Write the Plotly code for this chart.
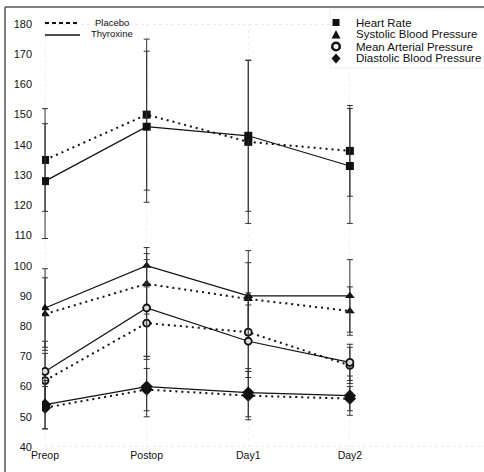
import plotly.graph_objects as go

# ---------------- data ----------------
categories = ["Preop", "Postop", "Day1", "Day2"]
y_ticks = list(range(40, 181, 10))

hr_placebo = [135, 150, 141, 138]
hr_placebo_err = [17, 25, 27, 15]
hr_thyroxine = [128, 146, 143, 133]
hr_thyroxine_err = [19, 25, 25, 19]

sbp_placebo = [84, 94, 89, 85]
sbp_placebo_err = [12, 10, 12, 8]
sbp_thyroxine = [86, 100, 90, 90]
sbp_thyroxine_err = [13, 6, 15, 12]

map_placebo = [62, 81, 78, 67]
map_placebo_err = [9, 12, 13, 6]
map_thyroxine = [65, 86, 75, 68]
map_thyroxine_err = [10, 16, 12, 6]

dbp_placebo = [53, 59, 57, 56]
dbp_placebo_err = [7, 7, 8, 4]
dbp_thyroxine = [54, 60, 58, 57]
dbp_thyroxine_err = [8, 10, 8, 6.5]

group_names = ["Placebo", "Thyroxine"]
measure_names = ["Heart Rate", "Systolic Blood Pressure",
                 "Mean Arterial Pressure", "Diastolic Blood Pressure"]

# ---------------- layout constants ----------------
W, H = 484, 472
L, R, T, B = 42, 484, 24, 447
FONT = "Liberation Sans, Arial, Helvetica, sans-serif"
INK = "#111111"


def px(x):
    return (x - L) / (R - L)


def py(y):
    return (B - y) / (B - T)


measures = [
    ("square", 8, INK, 0, (hr_placebo, hr_placebo_err), (hr_thyroxine, hr_thyroxine_err)),
    ("triangle-up", 8.5, INK, 0, (sbp_placebo, sbp_placebo_err), (sbp_thyroxine, sbp_thyroxine_err)),
    ("circle", 7, "#dcdcdc", 1.8, (map_placebo, map_placebo_err), (map_thyroxine, map_thyroxine_err)),
    ("diamond", 9.5, INK, 0, (dbp_placebo, dbp_placebo_err), (dbp_thyroxine, dbp_thyroxine_err)),
]

fig = go.Figure()
for symbol, size, fill, lw, plac, thy in measures:
    for (vals, errs), dash, width in ((plac, "2px,4px", 2), (thy, "solid", 1.2)):
        fig.add_trace(go.Scatter(
            x=categories, y=vals,
            mode="lines+markers",
            line=dict(color=INK, width=width, dash=dash),
            marker=dict(symbol=symbol, size=size, color=fill,
                        line=dict(color=INK, width=lw)),
            error_y=dict(type="data", array=errs, visible=True,
                         color="#333333", thickness=1, width=3),
            showlegend=False, hoverinfo="skip",
        ))

shapes = []
# faint dotted frame lines at 40 and 180
for yv in (40, 180):
    shapes.append(dict(type="line", xref="paper", yref="y", x0=px(45), x1=1, y0=yv, y1=yv,
                       line=dict(color="#d8d8d8", width=1, dash="dot"), layer="below"))
# outer frame (top and left)
shapes.append(dict(type="line", xref="paper", yref="paper", x0=px(5), x1=px(5),
                   y0=py(7), y1=py(480), line=dict(color="#555555", width=1.5)))
shapes.append(dict(type="line", xref="paper", yref="paper", x0=px(5), x1=px(490),
                   y0=py(7), y1=py(7), line=dict(color="#555555", width=1.5)))
# right legend box
shapes.append(dict(type="rect", xref="paper", yref="paper", x0=px(330), x1=px(486),
                   y0=py(68), y1=py(9), fillcolor="white",
                   line=dict(color="#f0f0f0", width=1)))
# left legend line samples
shapes.append(dict(type="line", xref="paper", yref="paper", x0=px(45), x1=px(80),
                   y0=py(23), y1=py(23), line=dict(color=INK, width=2, dash="4px,3px")))
shapes.append(dict(type="line", xref="paper", yref="paper", x0=px(45), x1=px(80),
                   y0=py(35), y1=py(35), line=dict(color=INK, width=1.3)))

# right legend symbols
sym_x = 336
rows = [22.5, 34.5, 46.5, 58.5]
common = dict(xref="paper", yref="paper", xsizemode="pixel", ysizemode="pixel",
              xanchor=px(sym_x))
shapes.append(dict(type="rect", x0=-3.5, x1=3.5, y0=-3.5, y1=3.5, yanchor=py(rows[0]),
                   fillcolor=INK, line=dict(width=0), **common))
shapes.append(dict(type="path", path="M -4.5,-4 L 4.5,-4 L 0,4.5 Z", yanchor=py(rows[1]),
                   fillcolor=INK, line=dict(width=0), **common))
shapes.append(dict(type="circle", x0=-3.8, x1=3.8, y0=-3.8, y1=3.8, yanchor=py(rows[2]),
                   fillcolor="white", line=dict(color=INK, width=2.5), **common))
shapes.append(dict(type="path", path="M 0,-5 L 4.5,0 L 0,5 L -4.5,0 Z", yanchor=py(rows[3]),
                   fillcolor=INK, line=dict(width=0), **common))

annotations = []
for name, yy in zip(group_names, (22.5, 33.5)):
    annotations.append(dict(text=name, xref="paper", yref="paper", x=px(112), y=py(yy),
                            xanchor="center", yanchor="middle", showarrow=False,
                            font=dict(family=FONT, size=9.5, color=INK)))
for name, yy in zip(measure_names, rows):
    annotations.append(dict(text=name, xref="paper", yref="paper", x=px(354), y=py(yy),
                            xanchor="left", yanchor="middle", showarrow=False,
                            font=dict(family=FONT, size=11.5, color=INK)))

fig.update_layout(
    width=W, height=H,
    margin=dict(l=L, r=W - R, t=T, b=H - B, pad=0),
    paper_bgcolor="white", plot_bgcolor="white",
    font=dict(family=FONT, color=INK),
    shapes=shapes, annotations=annotations,
    xaxis=dict(type="category", categoryorder="array", categoryarray=categories,
               range=[-0.03, 4.32], showgrid=True, gridcolor="#efefef", griddash="dot",
               gridwidth=1, showline=False, zeroline=False, ticks="",
               tickfont=dict(family=FONT, size=10.5, color=INK)),
    yaxis=dict(range=[40, 180], tickvals=y_ticks, showgrid=False, zeroline=False,
               showline=False, ticks="", ticklabelstandoff=9,
               tickfont=dict(family=FONT, size=11, color=INK)),
)

fig.write_html("out.html")
